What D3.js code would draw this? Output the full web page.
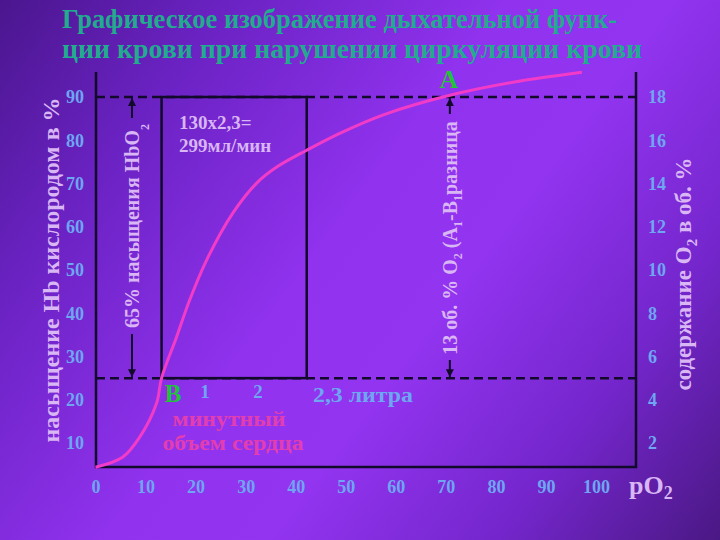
<!DOCTYPE html>
<html>
<head>
<meta charset="utf-8">
<script src="https://cdn.jsdelivr.net/npm/d3@7"></script>
<style>
  html, body { margin: 0; padding: 0; background: #5a1ca8; }
  svg { display: block; }
  text { font-family: "Liberation Serif", "DejaVu Serif", serif; font-weight: bold; }
</style>
</head>
<body>
<svg id="chart" width="720" height="540"></svg>
<script>
// ---- data ----
const titleLines = ["Графическое изображение дыхательной функ-", "ции крови при нарушении циркуляции крови"];
const xTicks = [0, 10, 20, 30, 40, 50, 60, 70, 80, 90, 100];
const leftTicks = [10, 20, 30, 40, 50, 60, 70, 80, 90];
const rightTicks = [2, 4, 6, 8, 10, 12, 14, 16, 18];
// oxyhemoglobin dissociation curve (pO2 vs. Hb saturation %)
const curvePO2 = [0, 5.4, 8.8, 12.2, 13.2, 16.2, 18.8, 22.2, 27.4, 32.2, 36.2, 42.2, 48.8, 57.8, 70.8, 83.4, 97.2];
const curveSat = [4.4, 6.7, 11.3, 19.2, 25, 34.5, 43, 52.3, 63.1, 70.1, 73.8, 77.7, 81.6, 86, 90.4, 93.4, 95.7];
const arterialSat = 90;   // A level
const venousSat = 25;     // B level
const boxPO2 = [13.2, 42.2]; // rectangle between B and x=2 liters

const svg = d3.select("#chart");
const W = 720, H = 540;

// background gradient
const defs = svg.append("defs");
const grad = defs.append("linearGradient").attr("id", "bg")
  .attr("gradientUnits", "userSpaceOnUse")
  .attr("x1", 0).attr("y1", 0).attr("x2", W).attr("y2", H);
[[0, "#4a168e"], [0.2, "#6a22c2"], [0.45, "#9032ee"], [0.6, "#9234f0"], [0.8, "#7426cc"], [1, "#4a1884"]]
  .forEach(([o, c]) => grad.append("stop").attr("offset", o).attr("stop-color", c));
svg.append("rect").attr("width", W).attr("height", H).attr("fill", "url(#bg)");

// arrow markers
defs.append("marker").attr("id", "arr-end")
  .attr("viewBox", "0 0 10 10").attr("refX", 10).attr("refY", 5)
  .attr("markerWidth", 4).attr("markerHeight", 5)
  .attr("orient", "auto")
  .append("path").attr("d", "M0,0 L10,5 L0,10 z").attr("fill", "#120a2a");

// scales
const x = d3.scaleLinear().domain([0, 100]).range([95.5, 596]);
const y = d3.scaleLinear().domain([10, 90]).range([443, 97]);
const yR = d3.scaleLinear().domain([2, 18]).range([443, 97]);
const plotLeft = 96, plotRight = 636, plotTop = 72, plotBottom = 467;

const tickColor = "#6ea6f2";
const labelColor = "#d9b6f4";
const lineColor = "#120a2a";

// title
svg.append("text").attr("x", 62).attr("y", 28).attr("font-size", 27)
  .attr("fill", "#22ac8e").attr("textLength", 555).attr("lengthAdjust", "spacingAndGlyphs")
  .text(titleLines[0]);
svg.append("text").attr("x", 62).attr("y", 58).attr("font-size", 27)
  .attr("fill", "#22ac8e").attr("textLength", 580).attr("lengthAdjust", "spacingAndGlyphs")
  .text(titleLines[1]);

// dashed reference lines
[arterialSat, venousSat].forEach(v => {
  svg.append("line").attr("x1", plotLeft).attr("x2", plotRight)
    .attr("y1", y(v)).attr("y2", y(v))
    .attr("stroke", lineColor).attr("stroke-width", 2.5).attr("stroke-dasharray", "9,5");
});

// rectangle (solid)
svg.append("rect").attr("x", x(boxPO2[0])).attr("y", y(arterialSat))
  .attr("width", x(boxPO2[1]) - x(boxPO2[0])).attr("height", y(venousSat) - y(arterialSat))
  .attr("fill", "none").attr("stroke", lineColor).attr("stroke-width", 2.5);

// axes frame
svg.append("path")
  .attr("d", `M${plotLeft},${plotTop} V${plotBottom} H${plotRight} V${plotTop}`)
  .attr("fill", "none").attr("stroke", lineColor).attr("stroke-width", 2.5);

// tick labels via d3 axes
const gx = svg.append("g").attr("transform", `translate(0,${plotBottom})`)
  .call(d3.axisBottom(x).tickValues(xTicks).tickSize(0).tickPadding(13).tickFormat(d3.format("d")));
const gl = svg.append("g").attr("transform", `translate(${plotLeft},0)`)
  .call(d3.axisLeft(y).tickValues(leftTicks).tickSize(0).tickPadding(12).tickFormat(d3.format("d")));
const gr = svg.append("g").attr("transform", `translate(${plotRight},0)`)
  .call(d3.axisRight(yR).tickValues(rightTicks).tickSize(0).tickPadding(12).tickFormat(d3.format("d")));
[gx, gl, gr].forEach(g => {
  g.select(".domain").remove();
  g.selectAll("text").attr("fill", tickColor).attr("font-size", 18)
    .attr("font-family", "Liberation Serif, serif").attr("font-weight", "bold");
});

// axis titles
svg.append("text").attr("transform", "translate(59,270) rotate(-90)")
  .attr("text-anchor", "middle").attr("font-size", 23).attr("fill", labelColor)
  .attr("textLength", 345).attr("lengthAdjust", "spacingAndGlyphs")
  .text("насыщение Hb кислородом в %");
const rt = svg.append("text").attr("transform", "translate(691,274) rotate(-90)")
  .attr("text-anchor", "middle").attr("font-size", 23).attr("fill", labelColor);
rt.append("tspan").text("содержание O");
rt.append("tspan").attr("font-size", 15).attr("dy", 6).text("2");
rt.append("tspan").attr("dy", -6).text(" в об. %");

const px = svg.append("text").attr("x", 629).attr("y", 494).attr("font-size", 26)
  .attr("fill", labelColor).attr("font-weight", "normal");
px.append("tspan").text("pO");
px.append("tspan").attr("font-size", 18).attr("dy", 5).text("2");

// left arrow with text (65%)
const ax1 = 132;
svg.append("line").attr("x1", ax1).attr("x2", ax1).attr("y1", 118).attr("y2", y(arterialSat) + 1)
  .attr("stroke", lineColor).attr("stroke-width", 2).attr("marker-end", "url(#arr-end)");
svg.append("line").attr("x1", ax1).attr("x2", ax1).attr("y1", 334).attr("y2", y(venousSat) - 1)
  .attr("stroke", lineColor).attr("stroke-width", 2).attr("marker-end", "url(#arr-end)");
const t1 = svg.append("text").attr("transform", `translate(${ax1 + 7},226) rotate(-90)`)
  .attr("text-anchor", "middle").attr("font-size", 20).attr("fill", labelColor);
t1.append("tspan").text("65% насыщения HbO");
t1.append("tspan").attr("font-size", 12).attr("dy", 10).text("2");

// right arrow with text (13 vol%)
const ax2 = x(70.8);
svg.append("line").attr("x1", ax2).attr("x2", ax2).attr("y1", 114).attr("y2", y(arterialSat) + 1)
  .attr("stroke", lineColor).attr("stroke-width", 2).attr("marker-end", "url(#arr-end)");
svg.append("line").attr("x1", ax2).attr("x2", ax2).attr("y1", 360).attr("y2", y(venousSat) - 1)
  .attr("stroke", lineColor).attr("stroke-width", 2).attr("marker-end", "url(#arr-end)");
const t2 = svg.append("text").attr("transform", `translate(${ax2 + 7},238) rotate(-90)`)
  .attr("text-anchor", "middle").attr("font-size", 20).attr("fill", labelColor);
t2.append("tspan").text("13 об. % O");
t2.append("tspan").attr("font-size", 12).attr("dy", 5).text("2");
t2.append("tspan").attr("dy", -5).text(" (A");
t2.append("tspan").attr("font-size", 12).attr("dy", 5).text("1");
t2.append("tspan").attr("dy", -5).text("-B");
t2.append("tspan").attr("font-size", 12).attr("dy", 5).text("1");
t2.append("tspan").attr("dy", -5).text("разница");

// curve
const pts = curvePO2.map((p, i) => [p, curveSat[i]]);
svg.append("path").datum(pts)
  .attr("d", d3.line().x(d => x(d[0])).y(d => y(d[1])).curve(d3.curveCatmullRom))
  .attr("fill", "none").attr("stroke", "#f23cc8").attr("stroke-width", 3);

// annotations
svg.append("text").attr("x", 449).attr("y", 88).attr("text-anchor", "middle")
  .attr("font-size", 26).attr("fill", "#1fc43a").text("А");
svg.append("text").attr("x", 173).attr("y", 402).attr("text-anchor", "middle")
  .attr("font-size", 25).attr("fill", "#1fc43a").text("В");
svg.append("text").attr("x", 205).attr("y", 398).attr("text-anchor", "middle")
  .attr("font-size", 19).attr("fill", tickColor).text("1");
svg.append("text").attr("x", 258).attr("y", 398).attr("text-anchor", "middle")
  .attr("font-size", 19).attr("fill", tickColor).text("2");
svg.append("text").attr("x", 313).attr("y", 402).attr("font-size", 21)
  .attr("fill", tickColor).attr("textLength", 100).attr("lengthAdjust", "spacingAndGlyphs").text("2,3 литра");
svg.append("text").attr("x", 229).attr("y", 426).attr("text-anchor", "middle")
  .attr("font-size", 21).attr("fill", "#e23eb0").attr("textLength", 113).attr("lengthAdjust", "spacingAndGlyphs").text("минутный");
svg.append("text").attr("x", 233).attr("y", 450).attr("text-anchor", "middle")
  .attr("font-size", 21).attr("fill", "#e23eb0").attr("textLength", 141).attr("lengthAdjust", "spacingAndGlyphs").text("объем сердца");
svg.append("text").attr("x", 179).attr("y", 129).attr("font-size", 19)
  .attr("fill", labelColor).text("130x2,3=");
svg.append("text").attr("x", 179).attr("y", 152).attr("font-size", 19)
  .attr("fill", labelColor).text("299мл/мин");
</script>
</body>
</html>
